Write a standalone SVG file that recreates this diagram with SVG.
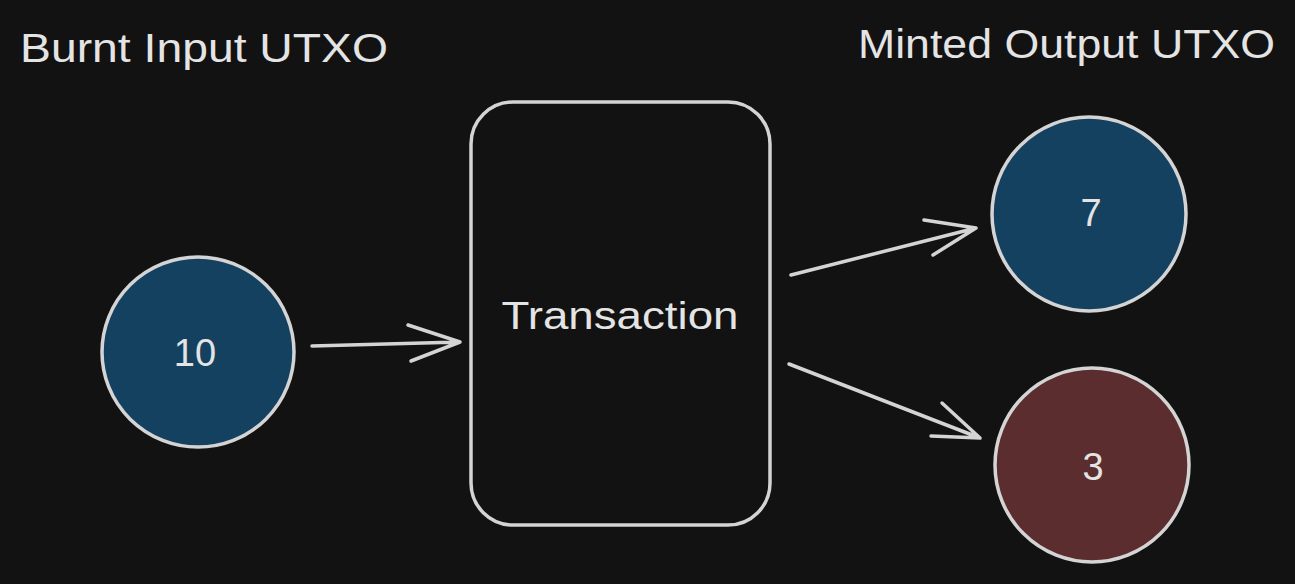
<svg xmlns="http://www.w3.org/2000/svg" width="1295" height="584" viewBox="0 0 1295 584">
<style>
.bg{fill:#121212}
.shape{stroke:#d4d4d4;stroke-width:3.5;stroke-linecap:round;stroke-linejoin:round}
.blue{fill:#154161}
.red{fill:#5b2d2e}
.box{fill:none}
.txt{fill:#e4e4e4;font-family:"Liberation Sans","DejaVu Sans",sans-serif}
.lbl{font-size:40px}
.num{font-size:38px;text-anchor:middle}
.conn path{fill:none;stroke:#d4d4d4;stroke-width:3.5;stroke-linecap:round;stroke-linejoin:round}
</style>
<rect class="bg" x="0" y="0" width="1295" height="584"/>
<g id="title-burnt"><text class="txt lbl" x="20" y="62" textLength="368" lengthAdjust="spacingAndGlyphs">Burnt Input UTXO</text></g>
<g id="title-minted"><text class="txt lbl" x="858" y="58" textLength="417" lengthAdjust="spacingAndGlyphs">Minted Output UTXO</text></g>
<g id="node-10">
<ellipse class="shape blue" cx="198" cy="352" rx="96" ry="95"/>
<text class="txt num" x="195" y="366">10</text>
</g>
<g id="node-transaction">
<rect class="shape box" x="471" y="102" width="299" height="423" rx="42" ry="42"/>
<text class="txt" x="620" y="329" font-size="38" text-anchor="middle" textLength="237" lengthAdjust="spacingAndGlyphs">Transaction</text>
</g>
<g id="node-7">
<ellipse class="shape blue" cx="1089" cy="214" rx="97" ry="97"/>
<text class="txt num" x="1091" y="226">7</text>
</g>
<g id="node-3">
<ellipse class="shape red" cx="1092" cy="465" rx="97" ry="97"/>
<text class="txt num" x="1093" y="480">3</text>
</g>
<g id="connectors" class="conn">
<path d="M312 346 L460 342 M408 325 L460 342 L411 361"/>
<path d="M791 275 L976 228 M924 220 L976 228 L933 255"/>
<path d="M789 364 L980 438 M942 403 L980 438 L931 436"/>
</g>
</svg>
